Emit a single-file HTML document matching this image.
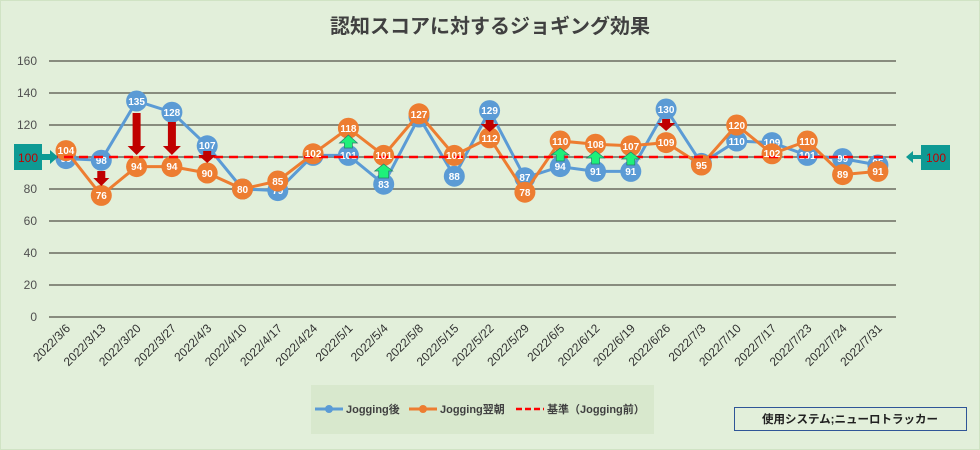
<!DOCTYPE html>
<html><head><meta charset="utf-8"><style>
html,body{margin:0;padding:0;background:#e2efda;}
svg{display:block;font-family:"Liberation Sans","Noto Sans CJK JP",sans-serif;}
</style></head><body>
<svg width="980" height="450" viewBox="0 0 980 450">
<rect x="0.5" y="0.5" width="979" height="449" fill="#e2efda" stroke="#d0e3c4"/>
<text x="490" y="33" text-anchor="middle" font-size="20" font-weight="bold" fill="#404040">認知スコアに対するジョギング効果</text>
<g stroke="#6b6b5f" stroke-width="1.5">
<line x1="49" x2="896" y1="61" y2="61"/><line x1="49" x2="896" y1="93" y2="93"/><line x1="49" x2="896" y1="125" y2="125"/><line x1="49" x2="896" y1="157" y2="157"/><line x1="49" x2="896" y1="189" y2="189"/><line x1="49" x2="896" y1="221" y2="221"/><line x1="49" x2="896" y1="253" y2="253"/><line x1="49" x2="896" y1="285" y2="285"/><line x1="49" x2="896" y1="317" y2="317"/>
</g>
<g font-size="12" fill="#505050" text-anchor="end">
<text x="37" y="65">160</text><text x="37" y="97">140</text><text x="37" y="129">120</text><text x="37" y="161">100</text><text x="37" y="193">80</text><text x="37" y="225">60</text><text x="37" y="257">40</text><text x="37" y="289">20</text><text x="37" y="321">0</text>
</g>
<g font-size="12" fill="#303030" text-anchor="end">
<text transform="translate(71,329) rotate(-45)">2022/3/6</text>
<text transform="translate(106.3,329) rotate(-45)">2022/3/13</text>
<text transform="translate(141.6,329) rotate(-45)">2022/3/20</text>
<text transform="translate(176.9,329) rotate(-45)">2022/3/27</text>
<text transform="translate(212.2,329) rotate(-45)">2022/4/3</text>
<text transform="translate(247.5,329) rotate(-45)">2022/4/10</text>
<text transform="translate(282.8,329) rotate(-45)">2022/4/17</text>
<text transform="translate(318.1,329) rotate(-45)">2022/4/24</text>
<text transform="translate(353.4,329) rotate(-45)">2022/5/1</text>
<text transform="translate(388.7,329) rotate(-45)">2022/5/4</text>
<text transform="translate(424,329) rotate(-45)">2022/5/8</text>
<text transform="translate(459.3,329) rotate(-45)">2022/5/15</text>
<text transform="translate(494.6,329) rotate(-45)">2022/5/22</text>
<text transform="translate(529.9,329) rotate(-45)">2022/5/29</text>
<text transform="translate(565.2,329) rotate(-45)">2022/6/5</text>
<text transform="translate(600.5,329) rotate(-45)">2022/6/12</text>
<text transform="translate(635.8,329) rotate(-45)">2022/6/19</text>
<text transform="translate(671.1,329) rotate(-45)">2022/6/26</text>
<text transform="translate(706.4,329) rotate(-45)">2022/7/3</text>
<text transform="translate(741.7,329) rotate(-45)">2022/7/10</text>
<text transform="translate(777,329) rotate(-45)">2022/7/17</text>
<text transform="translate(812.3,329) rotate(-45)">2022/7/23</text>
<text transform="translate(847.6,329) rotate(-45)">2022/7/24</text>
<text transform="translate(882.9,329) rotate(-45)">2022/7/31</text>
</g>
<!-- blue series -->
<polyline fill="none" stroke="#5b9bd5" stroke-width="3" points="66,158.6 101.3,160.2 136.6,101 171.9,112.2 207.2,145.8 242.5,189 277.8,190.6 313.1,155.4 348.4,155.4 383.7,184.2 419,117 454.3,176.2 489.6,110.6 524.9,177.8 560.2,166.6 595.5,171.4 630.8,171.4 666.1,109 701.4,163.4 736.7,141 772,142.6 807.3,155.4 842.6,158.6 877.9,165"/>
<g fill="#5b9bd5">
<circle cx="66" cy="158.6" r="10.5"/><circle cx="101.3" cy="160.2" r="10.5"/><circle cx="136.6" cy="101" r="10.5"/><circle cx="171.9" cy="112.2" r="10.5"/><circle cx="207.2" cy="145.8" r="10.5"/><circle cx="242.5" cy="189" r="10.5"/><circle cx="277.8" cy="190.6" r="10.5"/><circle cx="313.1" cy="155.4" r="10.5"/><circle cx="348.4" cy="155.4" r="10.5"/><circle cx="383.7" cy="184.2" r="10.5"/><circle cx="419" cy="117" r="10.5"/><circle cx="454.3" cy="176.2" r="10.5"/><circle cx="489.6" cy="110.6" r="10.5"/><circle cx="524.9" cy="177.8" r="10.5"/><circle cx="560.2" cy="166.6" r="10.5"/><circle cx="595.5" cy="171.4" r="10.5"/><circle cx="630.8" cy="171.4" r="10.5"/><circle cx="666.1" cy="109" r="10.5"/><circle cx="701.4" cy="163.4" r="10.5"/><circle cx="736.7" cy="141" r="10.5"/><circle cx="772" cy="142.6" r="10.5"/><circle cx="807.3" cy="155.4" r="10.5"/><circle cx="842.6" cy="158.6" r="10.5"/><circle cx="877.9" cy="165" r="10.5"/>
</g>
<g font-size="10" font-weight="bold" fill="#fff" text-anchor="middle">
<text x="66" y="162">99</text><text x="101.3" y="164">98</text><text x="136.6" y="105">135</text><text x="171.9" y="116">128</text><text x="207.2" y="149">107</text><text x="242.5" y="192">80</text><text x="277.8" y="194">79</text><text x="348.4" y="159">101</text><text x="383.7" y="188">83</text><text x="454.3" y="180">88</text><text x="489.6" y="114">129</text><text x="524.9" y="181">87</text><text x="560.2" y="170">94</text><text x="595.5" y="175">91</text><text x="630.8" y="175">91</text><text x="666.1" y="113">130</text><text x="736.7" y="145">110</text><text x="772" y="146">109</text><text x="807.3" y="159">101</text><text x="842.6" y="162">99</text><text x="877.9" y="166">95</text>
</g>
<!-- orange series -->
<polyline fill="none" stroke="#ed7d31" stroke-width="3" points="66,150.6 101.3,195.4 136.6,166.6 171.9,166.6 207.2,173 242.5,189 277.8,181 313.1,153.8 348.4,128.2 383.7,155.4 419,113.8 454.3,155.4 489.6,137.8 524.9,192.2 560.2,141 595.5,144.2 630.8,145.8 666.1,142.6 701.4,165 736.7,125 772,153.8 807.3,141 842.6,174.6 877.9,171.4"/>
<g fill="#ed7d31">
<circle cx="66" cy="150.6" r="10.5"/><circle cx="101.3" cy="195.4" r="10.5"/><circle cx="136.6" cy="166.6" r="10.5"/><circle cx="171.9" cy="166.6" r="10.5"/><circle cx="207.2" cy="173" r="10.5"/><circle cx="242.5" cy="189" r="10.5"/><circle cx="277.8" cy="181" r="10.5"/><circle cx="313.1" cy="153.8" r="10.5"/><circle cx="348.4" cy="128.2" r="10.5"/><circle cx="383.7" cy="155.4" r="10.5"/><circle cx="419" cy="113.8" r="10.5"/><circle cx="454.3" cy="155.4" r="10.5"/><circle cx="489.6" cy="137.8" r="10.5"/><circle cx="524.9" cy="192.2" r="10.5"/><circle cx="560.2" cy="141" r="10.5"/><circle cx="595.5" cy="144.2" r="10.5"/><circle cx="630.8" cy="145.8" r="10.5"/><circle cx="666.1" cy="142.6" r="10.5"/><circle cx="701.4" cy="165" r="10.5"/><circle cx="736.7" cy="125" r="10.5"/><circle cx="772" cy="153.8" r="10.5"/><circle cx="807.3" cy="141" r="10.5"/><circle cx="842.6" cy="174.6" r="10.5"/><circle cx="877.9" cy="171.4" r="10.5"/>
</g>
<line x1="49" x2="896" y1="157" y2="157" stroke="#ff0000" stroke-width="2.5" stroke-dasharray="9,6"/>
<g font-size="10" font-weight="bold" fill="#fff" text-anchor="middle">
<text x="66" y="154">104</text><text x="101.3" y="199">76</text><text x="136.6" y="170">94</text><text x="171.9" y="170">94</text><text x="207.2" y="177">90</text><text x="242.5" y="193">80</text><text x="277.8" y="185">85</text><text x="313.1" y="157">102</text><text x="348.4" y="132">118</text><text x="383.7" y="159">101</text><text x="419" y="118">127</text><text x="454.3" y="159">101</text><text x="489.6" y="142">112</text><text x="524.9" y="196">78</text><text x="560.2" y="145">110</text><text x="595.5" y="148">108</text><text x="630.8" y="150">107</text><text x="666.1" y="146">109</text><text x="701.4" y="169">95</text><text x="736.7" y="129">120</text><text x="772" y="157">102</text><text x="807.3" y="145">110</text><text x="842.6" y="178">89</text><text x="877.9" y="175">91</text>
</g>
<!-- red down arrows -->
<g fill="#c00000">
<polygon points="97.3,171 105.3,171 105.3,178 109.3,178 101.3,186 93.3,178 97.3,178"/>
<polygon points="132.6,113 140.6,113 140.6,146 145.6,146 136.6,155 127.6,146 132.6,146"/>
<polygon points="167.9,122 175.9,122 175.9,146 180.9,146 171.9,155 162.9,146 167.9,146"/>
<polygon points="203.2,151 211.2,151 211.2,155 216.2,155 207.2,163 198.2,155 203.2,155"/>
<polygon points="485.6,120 493.6,120 493.6,124 498.6,124 489.6,132 480.6,124 485.6,124"/>
<polygon points="662.1,119 670.1,119 670.1,123 675.1,123 666.1,131 657.1,123 662.1,123"/>
</g>
<!-- green up arrows -->
<g fill="#1ef07a" stroke="#2a7a6a" stroke-width="0.7">
<polygon points="348.4,135 357.4,143 352.4,143 352.4,148 344.4,148 344.4,143 339.4,143"/>
<polygon points="383.7,164 392.7,171 388.7,171 388.7,178 378.7,178 378.7,171 374.7,171"/>
<polygon points="560.2,148 569.2,155 564.2,155 564.2,161 556.2,161 556.2,155 551.2,155"/>
<polygon points="595.5,151 604.5,158 599.5,158 599.5,164 591.5,164 591.5,158 586.5,158"/>
<polygon points="630.8,152 639.8,159 634.8,159 634.8,165 626.8,165 626.8,159 621.8,159"/>
</g>
<!-- side boxes -->
<rect x="14" y="144" width="28" height="26" fill="#0e9a94"/>
<text x="28" y="162" font-size="12" fill="#c00000" text-anchor="middle">100</text>
<polygon points="42,154 50,154 50,150 58,157 50,164 50,160 42,160" fill="#0e9a94"/>
<rect x="921" y="145" width="29" height="25" fill="#0e9a94"/>
<text x="936" y="162" font-size="12" fill="#c00000" text-anchor="middle">100</text>
<polygon points="906,157 913,151 913,155 921,155 921,159 913,159 913,163" fill="#0e9a94"/>
<!-- legend -->
<rect x="311" y="385" width="343" height="49" fill="#d8e8cd"/>
<line x1="315" x2="343" y1="409" y2="409" stroke="#5b9bd5" stroke-width="3"/><circle cx="329" cy="409" r="4" fill="#5b9bd5"/>
<text x="346" y="413" font-size="11" font-weight="bold" fill="#404040">Jogging後</text>
<line x1="409" x2="437" y1="409" y2="409" stroke="#ed7d31" stroke-width="3"/><circle cx="423" cy="409" r="4" fill="#ed7d31"/>
<text x="440" y="413" font-size="11" font-weight="bold" fill="#404040">Jogging翌朝</text>
<line x1="516" x2="544" y1="409" y2="409" stroke="#ff0000" stroke-width="2.5" stroke-dasharray="6,3"/>
<text x="547" y="413" font-size="11" font-weight="bold" fill="#404040">基準（Jogging前）</text>
<rect x="734.5" y="407.5" width="232" height="23" fill="none" stroke="#2f5597" stroke-width="1"/>
<text x="850" y="423" font-size="11.5" font-weight="bold" fill="#202020" text-anchor="middle">使用システム;ニューロトラッカー</text>
</svg>
</body></html>
